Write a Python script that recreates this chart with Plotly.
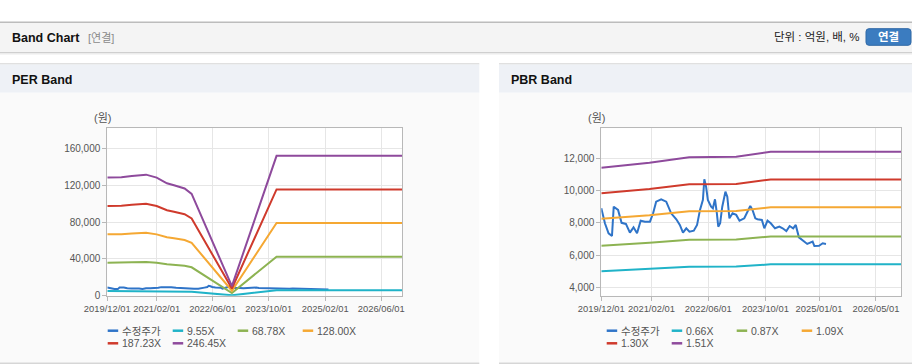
import plotly.graph_objects as go

W, H = 912, 364

# ---------------- data ----------------
price_dates = ["2019-12-01", "2020-01-01", "2020-02-01", "2020-03-01", "2020-03-16", "2020-04-22",
               "2020-05-22", "2020-06-28", "2020-08-01", "2020-09-01", "2020-10-01", "2020-11-01",
               "2020-12-07", "2021-01-19", "2021-02-15", "2021-03-13", "2021-04-25", "2021-06-07",
               "2021-07-19", "2021-09-01", "2021-10-01", "2021-10-28", "2021-11-25", "2021-12-22",
               "2022-01-28", "2022-02-25", "2022-03-22", "2022-04-16", "2022-04-28", "2022-05-13",
               "2022-05-28", "2022-06-25", "2022-07-10", "2022-07-28", "2022-08-13", "2022-08-25",
               "2022-09-10", "2022-09-28", "2022-10-25", "2022-11-10", "2022-11-28", "2022-12-25",
               "2023-01-25", "2023-02-22", "2023-04-04", "2023-05-01", "2023-05-25", "2023-06-13",
               "2023-07-07", "2023-07-25", "2023-09-01", "2023-09-22", "2023-10-19", "2023-11-16",
               "2023-12-22", "2024-01-28", "2024-02-25", "2024-03-28", "2024-04-25", "2024-05-25",
               "2024-06-16", "2024-07-13", "2024-08-25", "2024-09-22", "2024-11-07", "2024-11-22",
               "2025-01-01", "2025-02-01", "2025-03-01"]
price = [8900, 7970, 7350, 7180, 9000, 8800, 8000, 7930, 7390, 7720, 7350, 8130,
         8070, 8070, 8590, 9310, 9460, 9310, 8590, 8220, 7870, 7390, 7660, 7450,
         7510, 7870, 8800, 9420, 10700, 10240, 9420, 9000, 8900, 9460, 8590, 7760,
         7970, 9000, 9930, 9620, 8280, 8590, 8490, 8130, 8280, 8690, 9040, 8800,
         8280, 8220, 8180, 7660, 8130, 7970, 7660, 7760, 7660, 7490, 7800, 7660,
         7870, 7100, 6830, 6690, 6830, 6560, 6580, 6730, 6690]

per_dates = ["2019-12-01", "2020-03-01", "2020-04-01", "2020-07-01", "2020-11-01", "2021-02-01",
             "2021-05-01", "2021-07-01", "2021-08-01", "2021-10-01", "2021-12-01", "2022-11-15",
             "2023-12-07", "2026-12-01"]
per_x955 = [4976, 4976, 4995, 5042, 5100, 4976, 4737, 4651, 4603, 4517, 4288, 401, 5892, 5892]
per_x6878 = [35834, 35834, 35972, 36316, 36729, 35834, 34115, 33496, 33152, 32533, 30882, 2889, 42437, 42437]
per_x12800 = [66688, 66688, 66944, 67584, 68352, 66688, 63488, 62336, 61696, 60544, 57472, 5376, 78976, 78976]
per_x18723 = [97547, 97547, 97921, 98857, 99981, 97547, 92866, 91181, 90245, 88560, 84066, 7864, 115521, 115521]
per_x24645 = [128400, 128400, 128893, 130126, 131604, 128400, 122239, 120021, 118789, 116571, 110656, 10351, 152060, 152060]
per_names = ["수정주가", "9.55X", "68.78X", "128.00X", "187.23X", "246.45X"]

pbr_dates = ["2019-12-01", "2021-01-15", "2021-12-20", "2023-01-25", "2023-11-15", "2026-12-01"]
pbr_x066 = [4992, 5127, 5273, 5287, 5425, 5425]
pbr_x087 = [6580, 6758, 6951, 6969, 7151, 7151]
pbr_x109 = [8244, 8467, 8709, 8731, 8959, 8959]
pbr_x130 = [9832, 10098, 10387, 10413, 10685, 10685]
pbr_x151 = [11420, 11730, 12065, 12095, 12411, 12411]
pbr_names = ["수정주가", "0.66X", "0.87X", "1.09X", "1.30X", "1.51X"]

per_tickvals = ["2019-12-01", "2021-02-01", "2022-06-01", "2023-10-01", "2025-02-01", "2026-06-01"]
per_ticktext = ["2019/12/01", "2021/02/01", "2022/06/01", "2023/10/01", "2025/02/01", "2026/06/01"]
pbr_tickvals = ["2019-12-01", "2021-02-01", "2022-06-01", "2023-10-01", "2025-01-01", "2026-05-01"]
pbr_ticktext = ["2019/12/01", "2021/02/01", "2022/06/01", "2023/10/01", "2025/01/01", "2026/05/01"]
per_yticks = [0, 40000, 80000, 120000, 160000]
pbr_yticks = [4000, 6000, 8000, 10000, 12000]

colors = ["#2f74c8", "#20b3c8", "#8db352", "#f5a833", "#cf3a2c", "#8e4a9c"]

FONT = "Liberation Sans, Noto Sans CJK KR, sans-serif"


def px(x):
    return x / W


def py(y):
    return 1 - y / H


fig = go.Figure()

per_series = [per_x955, per_x6878, per_x12800, per_x18723, per_x24645]
pbr_series = [pbr_x066, pbr_x087, pbr_x109, pbr_x130, pbr_x151]

fig.add_trace(go.Scatter(x=price_dates, y=price, name=per_names[0], mode="lines",
                         line=dict(color=colors[0], width=2), xaxis="x", yaxis="y"))
for i, s in enumerate(per_series):
    fig.add_trace(go.Scatter(x=per_dates, y=s, name=per_names[i + 1], mode="lines",
                             line=dict(color=colors[i + 1], width=2), xaxis="x", yaxis="y"))

fig.add_trace(go.Scatter(x=price_dates, y=price, name=pbr_names[0], mode="lines",
                         line=dict(color=colors[0], width=2), xaxis="x2", yaxis="y2"))
for i, s in enumerate(pbr_series):
    fig.add_trace(go.Scatter(x=pbr_dates, y=s, name=pbr_names[i + 1], mode="lines",
                             line=dict(color=colors[i + 1], width=2), xaxis="x2", yaxis="y2"))

# -------------- page chrome (shapes) --------------
shapes = []


def rect(x0, y0, x1, y1, color):
    shapes.append(dict(type="rect", xref="paper", yref="paper", x0=px(x0), x1=px(x1),
                       y0=py(y1), y1=py(y0), fillcolor=color, line=dict(width=0), layer="below"))


rect(0, 21.5, 912, 23, "#bcbcbc")
rect(0, 23, 912, 52, "#f4f4f4")
rect(0, 52, 912, 53, "#cfcfcf")
rect(0, 53, 912, 54.5, "#ececec")
for (a, b) in [(0, 479.3), (499, 912)]:
    rect(a, 63.3, b, 64.5, "#d6d6d6")
    rect(a, 64.5, b, 92.7, "#eef1f6")
    rect(a, 92.7, b, 362.5, "#fafafa")
    rect(a, 362.5, b, 364, "#d6d6d6")
# white plot areas
rect(107.3, 128.3, 402.3, 295.7, "#ffffff")
rect(601.3, 128.3, 901, 295.7, "#ffffff")

# rounded button
bx0, bx1, by0, by1, r = 866, 911, 28.7, 45.3, 3
path = (f"M {px(bx0 + r)},{py(by0)} L {px(bx1 - r)},{py(by0)} Q {px(bx1)},{py(by0)} {px(bx1)},{py(by0 + r)} "
        f"L {px(bx1)},{py(by1 - r)} Q {px(bx1)},{py(by1)} {px(bx1 - r)},{py(by1)} "
        f"L {px(bx0 + r)},{py(by1)} Q {px(bx0)},{py(by1)} {px(bx0)},{py(by1 - r)} "
        f"L {px(bx0)},{py(by0 + r)} Q {px(bx0)},{py(by0)} {px(bx0 + r)},{py(by0)} Z")
shapes.append(dict(type="path", xref="paper", yref="paper", path=path,
                   fillcolor="#3b7cc0", line=dict(color="#2f68a6", width=1), layer="below"))

annotations = []


def text(x, y, s, size=11, color="#222", anchor="left", bold=False):
    if bold:
        s = f"<b>{s}</b>"
    annotations.append(dict(xref="paper", yref="paper", x=px(x), y=py(y), text=s, showarrow=False,
                            xanchor=anchor, yanchor="middle", font=dict(size=size, color=color, family=FONT),
                            borderpad=0))


text(11, 38, "Band Chart", 12.5, "#111", bold=True)
text(87, 38, "[연결]", 11, "#8a8a8a")
text(861, 37, "단위 : 억원, 배, %", 11.5, "#222", anchor="right")
text(888.5, 37, "연결", 11.5, "#ffffff", anchor="center", bold=True)
text(11, 80, "PER Band", 12.5, "#111", bold=True)
text(510, 80, "PBR Band", 12.5, "#111", bold=True)
text(102, 118.3, "(원)", 11, "#555", anchor="center")
text(596.5, 118.3, "(원)", 11, "#555", anchor="center")

# custom legends
def legend(x_start, names):
    pos = [(0, 330.7), (1, 330.7), (2, 330.7), (3, 330.7), (0, 343.3), (1, 343.3)]
    for i, (name, (col, yy)) in enumerate(zip(names, pos)):
        x0 = x_start + col * 65
        shapes.append(dict(type="line", xref="paper", yref="paper", x0=px(x0), x1=px(x0 + 10.5),
                           y0=py(yy), y1=py(yy), line=dict(color=colors[i], width=2.5)))
        text(x0 + 13, yy, name, 10.5, "#555")


legend(107.7, per_names)
legend(606.7, pbr_names)

axis_common = dict(showgrid=True, gridcolor="#e6e6e6", gridwidth=1, showline=True, mirror=True,
                   linecolor="#b8b8b8", linewidth=1, ticks="outside", ticklen=4, tickcolor="#b8b8b8",
                   tickfont=dict(size=10, color="#555", family=FONT), zeroline=False, fixedrange=True,
                   automargin=False)
xfont = dict(size=9.4, color="#555", family=FONT)

fig.update_layout(
    width=W, height=H, autosize=False,
    margin=dict(l=0, r=0, t=0, b=0, pad=0, autoexpand=False),
    paper_bgcolor="#ffffff", plot_bgcolor="rgba(0,0,0,0)",
    showlegend=False,
    font=dict(family=FONT),
    shapes=shapes, annotations=annotations,
    xaxis=dict(axis_common, type="date", domain=[px(107.3), px(402.3)],
               range=["2019-12-01", "2026-12-01"], tickmode="array", tickfont=xfont,
               tickvals=per_tickvals, ticktext=per_ticktext, tickangle=0, anchor="y"),
    yaxis=dict(axis_common, domain=[py(295.7), py(128.3)], range=[0, 182000],
               tickmode="array", tickvals=per_yticks, tickformat=",d", anchor="x"),
    xaxis2=dict(axis_common, type="date", domain=[px(601.3), px(901)],
                range=["2019-12-01", "2026-12-01"], tickmode="array", tickfont=xfont,
                tickvals=pbr_tickvals, ticktext=pbr_ticktext, tickangle=0, anchor="y2"),
    yaxis2=dict(axis_common, domain=[py(295.7), py(128.3)], range=[3480, 13860],
                tickmode="array", tickvals=pbr_yticks, tickformat=",d", anchor="x2"),
)

fig.write_html("out.html",
               config={"displayModeBar": False, "staticPlot": True},
               post_script="document.body.style.margin='0';document.body.style.padding='0';"
                           "document.body.style.overflow='hidden';")
